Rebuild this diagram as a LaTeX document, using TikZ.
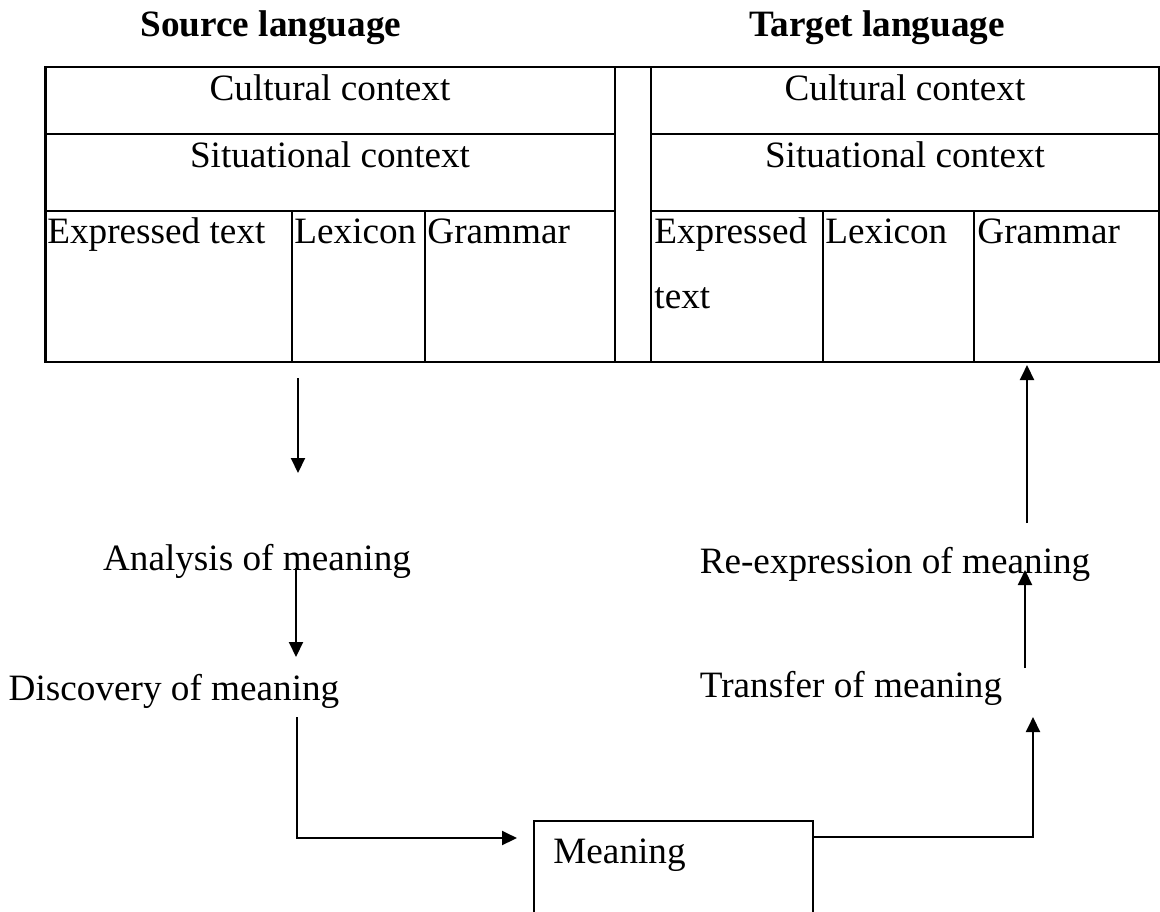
\documentclass[tikz,border=0pt]{standalone}
\usepackage{fontspec}
\setmainfont{Liberation Serif}
\usetikzlibrary{arrows.meta,positioning}
\tikzset{
  >={Triangle[length=7.5pt,width=7pt]},
  grid/.style={line width=1.3pt},
  flow/.style={->,line width=1pt},
  lbl/.style={font=\fontsize{18.6}{22}\selectfont,inner sep=0pt},
  head/.style={lbl,font=\fontsize{18.6}{22}\selectfont\bfseries},
  mbox/.style={draw,line width=1.1pt,inner sep=0pt,minimum width=139.5pt,minimum height=80pt},
}

\begin{document}
\begin{tikzpicture}[x=0.5pt,y=-0.5pt]
  \useasboundingbox (0,0) rectangle (1160,911);
  \clip (0,0) rectangle (1160,911);
  % headings
  \node[head,anchor=base] (src) at (271,36) {Source language};
  \node[head,anchor=base] (tgt) at (877,36) {Target language};
  % the two tables
  \draw[grid] (45.5,67) rectangle (1159,362);
  \draw[grid] (615,67) -- (615,362) (651,67) -- (651,362);
  \foreach \y in {134,211}{
    \draw[grid] (45.5,\y) -- (615,\y);
    \draw[grid] (651,\y) -- (1159,\y);
  }
  \foreach \x in {292,425,823,974} \draw[grid] (\x,211) -- (\x,362);
  \foreach \c/\n in {330/l,905/r}{
    \node[lbl,anchor=base] (cult\n) at (\c,100) {Cultural context};
    \node[lbl,anchor=base] (sit\n) at (\c,167) {Situational context};
  }
  \node[lbl,anchor=base west] (expl) at (47,243) {Expressed text};
  \node[lbl,anchor=base west] (lexl) at (294,243) {Lexicon};
  \node[lbl,anchor=base west] (graml) at (427,243) {Grammar};
  \node[lbl,anchor=base west] (expr) at (654,243) {Expressed};
  \node[lbl,anchor=base west] (exprb) at (654,308) {text};
  \node[lbl,anchor=base west] (lexr) at (825,243) {Lexicon};
  \node[lbl,anchor=base west] (gramr) at (977,243) {Grammar};
  % steps
  \node[lbl,anchor=base] (ana) at (257,570) {Analysis of meaning};
  \node[lbl,anchor=base] (dis) at (174,700) {Discovery of meaning};
  \node[lbl,anchor=base] (rex) at (895,573) {Re-expression of meaning};
  \node[lbl,anchor=base] (tra) at (851,697) {Transfer of meaning};
  \node[mbox,anchor=north west] (mean) at (533,820) {};
  \node[lbl,anchor=base west] (meantxt) at (553,863) {Meaning};
  % arrow ends
  \coordinate (a1) at (298,378);  \coordinate (a1e) at (298,473);
  \coordinate (a2) at (296,568);  \coordinate (a2e) at (296,657);
  \coordinate (a3) at (297,717);  \coordinate (a3e) at (517,838);
  \coordinate (b1) at (812,837);  \coordinate (b1e) at (1033,717);
  \coordinate (b2) at (1025,668); \coordinate (b2e) at (1025,570);
  \coordinate (b3) at (1027,523); \coordinate (b3e) at (1027,365);
  \draw[flow] (a1) -- (a1e);
  \draw[flow] (a2) -- (a2e);
  \draw[flow] (a3) |- (a3e);
  \draw[flow] (b1) -| (b1e);
  \draw[flow] (b2) -- (b2e);
  \draw[flow] (b3) -- (b3e);
\end{tikzpicture}
\end{document}
